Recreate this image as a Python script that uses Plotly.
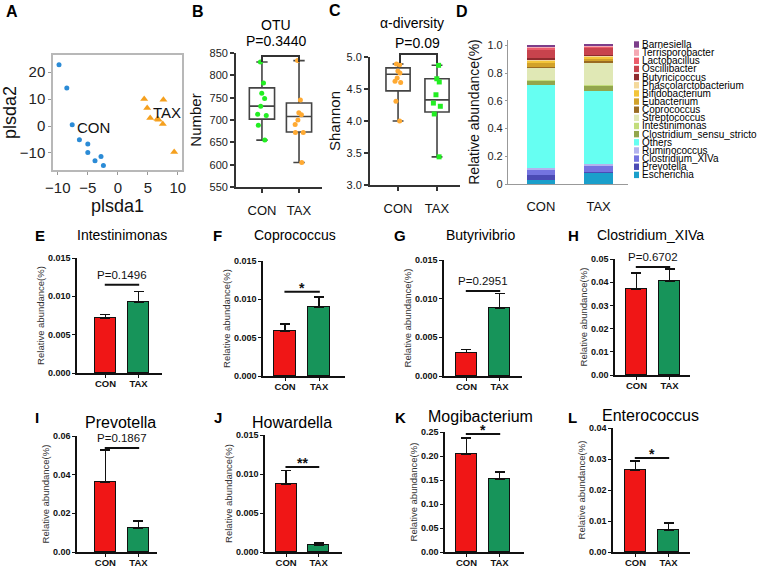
import plotly.graph_objects as go

W, H = 767, 569
FONT = "Liberation Sans, Arial, sans-serif"
RED = "#f01616"
GREEN = "#17945a"
DARK = "#333333"

# ---------------- data ----------------
groups = ["CON", "TAX"]

# A: PLS-DA scores
con_plsda1 = [-9.8, -8.5, -7.6, -6.4, -5.0, -5.0, -3.8, -2.8, -2.4]
con_plsda2 = [22.7, 14.1, 0.5, -5.1, -6.7, -9.8, -12.9, -11.3, -14.6]
tax_plsda1 = [4.4, 4.9, 5.4, 6.6, 6.8, 7.6, 7.5, 9.4]
tax_plsda2 = [10.0, 6.7, 3.0, 2.6, 2.3, 9.7, 0.7, -9.6]

# B: OTU number (points and box stats q1, median, q3, min, max)
otu_con = [830, 783, 760, 748, 731, 713, 710, 688, 655]
otu_tax = [833, 745, 716, 712, 700, 690, 672, 672, 605]
otu_con_box = [702, 731, 772, 655, 830]
otu_tax_box = [673, 708, 738, 605, 833]

# C: Shannon index
shannon_con = [4.89, 4.88, 4.78, 4.75, 4.67, 4.62, 4.60, 4.31, 4.00]
shannon_tax = [4.87, 4.66, 4.61, 4.41, 4.28, 4.23, 4.11, 3.44]
shannon_con_box = [4.47, 4.73, 4.83, 4.00, 4.89]
shannon_tax_box = [4.14, 4.33, 4.66, 3.44, 4.87]

# D: genus composition (bottom to top of the stack)
genera = ["Escherichia", "Prevotella", "Clostridium_XIVa", "Ruminococcus", "Others",
          "Clostridium_sensu_stricto", "Intestinimonas", "Streptococcus", "Coprococcus",
          "Eubacterium", "Bifidobacterium", "Phascolarctobacterium", "Butyricicoccus",
          "Oscillibacter", "Lactobacillus", "Terrisporobacter", "Barnesiella"]
con_abundance = [0.028, 0.035, 0.035, 0.016, 0.600, 0.033, 0.005, 0.090, 0.006,
                 0.025, 0.021, 0.007, 0.007, 0.066, 0.009, 0.013, 0.007]
tax_abundance = [0.080, 0.005, 0.043, 0.017, 0.530, 0.033, 0.005, 0.161, 0.014,
                 0.018, 0.014, 0.005, 0.006, 0.053, 0.006, 0.011, 0.005]
genus_colors = ["#1a9fcb", "#4b4bb5", "#7474e0", "#b3b3ee", "#66fff2", "#93a64c",
                "#c3dd7b", "#e0e8b5", "#9a6b22", "#d2a22a", "#f3c53a", "#f4d99c",
                "#8e2b2e", "#c8434d", "#ec5d6c", "#f5a8b3", "#7c3e8a"]

# E-L: mean and SEM (CON, TAX)
intestinimonas_mean = [0.00717, 0.00926]
intestinimonas_sem = [0.0005, 0.0014]
coprococcus_mean = [0.00587, 0.0090]
coprococcus_sem = [0.0009, 0.0013]
butyrivibrio_mean = [0.0030, 0.0088]
butyrivibrio_sem = [0.0004, 0.0019]
clostridium_xiva_mean = [0.0371, 0.0405]
clostridium_xiva_sem = [0.0069, 0.0052]
prevotella_mean = [0.0362, 0.0124]
prevotella_sem = [0.0166, 0.0036]
howardella_mean = [0.00872, 0.0009]
howardella_sem = [0.0017, 0.00025]
mogibacterium_mean = [0.204, 0.152]
mogibacterium_sem = [0.0335, 0.0147]
enterococcus_mean = [0.0265, 0.0071]
enterococcus_sem = [0.0029, 0.0023]


def dom_x(a, b):
    return [a / W, b / W]


def dom_y(top, bottom):
    return [1 - bottom / H, 1 - top / H]


def note(x, y, text, size, bold=False, xanchor="center", yanchor="middle", color="black"):
    return dict(x=x / W, y=1 - y / H, xref="paper", yref="paper", text=text, showarrow=False,
                xanchor=xanchor, yanchor=yanchor,
                font=dict(family=FONT, size=size, color=color, weight="bold" if bold else "normal"))


fig = go.Figure()
layout = {}
annotations = []
shapes = []

# ---------------- A ----------------
fig.add_trace(go.Scatter(x=con_plsda1, y=con_plsda2, mode="markers", showlegend=False,
                         marker=dict(color="#2b8bd6", size=5), xaxis="x", yaxis="y"))
fig.add_trace(go.Scatter(x=tax_plsda1, y=tax_plsda2, mode="markers", showlegend=False,
                         marker=dict(color="#f5a01e", size=7, symbol="triangle-up"),
                         xaxis="x", yaxis="y"))
frame = dict(showgrid=False, zeroline=False, mirror=True, showline=True, linecolor="#b8b8b8",
             linewidth=1.5, ticks="outside", ticklen=3, tickcolor="#999", automargin=False,
             tickfont=dict(family=FONT, size=15, color="#222"))
layout["xaxis"] = dict(frame, domain=dom_x(53, 182), anchor="y", range=[-10.8, 10.7],
                       tickvals=[-10, -5, 0, 5, 10],
                       title=dict(text="plsda1", font=dict(family=FONT, size=18), standoff=2))
layout["yaxis"] = dict(frame, domain=dom_y(55, 170), anchor="x", range=[-16.3, 26.3],
                       tickvals=[-10, 0, 10, 20],
                       title=dict(text="plsda2", font=dict(family=FONT, size=18), standoff=2))
annotations.append(dict(x=-7.2, y=-0.5, xref="x", yref="y", text="CON", showarrow=False,
                        xanchor="left", font=dict(family=FONT, size=15)))
annotations.append(dict(x=5.6, y=5.0, xref="x", yref="y", text="TAX", showarrow=False,
                        xanchor="left", font=dict(family=FONT, size=15)))


# ---------------- B / C box plots ----------------
def add_box(pts, stats, xpos, color, symbol, ax, width):
    q1, med, q3, lo, hi = stats
    fig.add_trace(go.Box(x=[xpos], y=[pts], q1=[q1], median=[med], q3=[q3],
                         lowerfence=[lo], upperfence=[hi], width=width, whiskerwidth=0.45,
                         boxpoints="all", jitter=0.45, pointpos=0,
                         fillcolor="rgba(255,255,255,0)", line=dict(color="#444", width=1.6),
                         marker=dict(color=color, size=5, symbol=symbol),
                         showlegend=False, xaxis="x" + ax, yaxis="y" + ax))


add_box(otu_con, otu_con_box, 0, "#22ee22", "circle", "2", 0.68)
add_box(otu_tax, otu_tax_box, 1, "#ffaa33", "circle", "2", 0.68)
add_box(shannon_con, shannon_con_box, 0, "#ffaa33", "circle", "3", 0.62)
add_box(shannon_tax, shannon_tax_box, 1, "#22ee22", "square", "3", 0.62)

box_y = dict(showgrid=False, zeroline=False, showline=True, linecolor=DARK, linewidth=1.8,
             ticks="outside", ticklen=4, tickcolor=DARK, tickwidth=1.5, automargin=False,
             tickfont=dict(family=FONT, size=11, color="#222"))
box_x = dict(showgrid=False, zeroline=False, showline=True, linecolor=DARK, linewidth=1.8,
             ticks="outside", ticklen=4, tickcolor=DARK, tickwidth=1.5, tickvals=[0, 1],
             ticktext=groups, ticklabelstandoff=6, automargin=False,
             tickfont=dict(family=FONT, size=13, color="#111"))
layout["xaxis2"] = dict(box_x, domain=dom_x(236, 322), anchor="y2", range=[-0.7, 1.62])
layout["yaxis2"] = dict(box_y, domain=dom_y(53, 187), anchor="x2", range=[550, 850], dtick=50,
                        title=dict(text="Number", font=dict(family=FONT, size=15), standoff=4))
layout["xaxis3"] = dict(box_x, domain=dom_x(370, 460), anchor="y3", range=[-0.72, 1.59])
layout["yaxis3"] = dict(box_y, domain=dom_y(57, 185), anchor="x3", range=[3.0, 5.0], dtick=0.5,
                        tickformat=".1f",
                        title=dict(text="Shannon", font=dict(family=FONT, size=15), standoff=2))

annotations += [note(198, 12, "B", 16, True), note(335, 11, "C", 16, True),
                note(12, 12, "A", 16, True), note(462, 12, "D", 16, True),
                note(276, 25, "OTU", 14), note(276, 41, "P=0.3440", 14),
                note(412, 23, "α-diversity", 14), note(417, 43, "P=0.09", 14)]
# comparison brackets
for (x0, x1, ytop, yl, yr) in [(262, 299, 56, 62, 62), (400, 437, 54, 63, 63)]:
    shapes.append(dict(type="path", xref="paper", yref="paper",
                       path="M {:.5f},{:.5f} L {:.5f},{:.5f} L {:.5f},{:.5f} L {:.5f},{:.5f}".format(
                           x0 / W, 1 - yl / H, x0 / W, 1 - ytop / H, x1 / W, 1 - ytop / H,
                           x1 / W, 1 - yr / H),
                       line=dict(color=DARK, width=2)))

# ---------------- D stacked bars ----------------
for name, c_val, t_val, col in zip(genera, con_abundance, tax_abundance, genus_colors):
    fig.add_trace(go.Bar(x=[0, 1], y=[c_val, t_val], name=name, marker=dict(color=col, line=dict(width=0)),
                         width=0.49, showlegend=False, xaxis="x4", yaxis="y4"))
layout["barmode"] = "stack"
layout["xaxis4"] = dict(domain=dom_x(508, 628), anchor="y4", range=[-0.57, 1.51], showgrid=False,
                        zeroline=False, showline=True, linecolor="#999", linewidth=1.2,
                        tickvals=[0, 1], ticktext=groups, ticks="", ticklabelstandoff=10,
                        automargin=False, tickfont=dict(family=FONT, size=13, color="#111"))
layout["yaxis4"] = dict(domain=dom_y(40, 184), anchor="x4", range=[0, 1.04], showgrid=False,
                        zeroline=False, showline=True, linecolor="#999", linewidth=1.2,
                        tickvals=[0, 0.2, 0.4, 0.6, 0.8, 1.0], automargin=False,
                        ticktext=["0", "0.2", "0.4", "0.6", "0.8", "1.0"], ticks="outside",
                        ticklen=2, tickcolor="#999", tickfont=dict(family=FONT, size=11, color="#222"),
                        title=dict(text="Relative abundance(%)", font=dict(family=FONT, size=14),
                                   standoff=4))
# legend drawn by hand so the entries can sit as tightly as in the original
for i, (name, col) in enumerate(zip(genera[::-1], genus_colors[::-1])):
    yc = 44.5 + i * 8.15
    shapes.append(dict(type="rect", xref="paper", yref="paper", x0=634 / W, x1=639 / W,
                       y0=1 - (yc + 3.2) / H, y1=1 - (yc - 3.2) / H, fillcolor=col,
                       line=dict(width=0)))
    annotations.append(note(640, yc, name, 10, xanchor="left"))

# ---------------- E-L bar panels ----------------
panels = [
    # letter, title, mean, sem, x0, x1, ytop, ybot, ymax, dtick, fmt, xrange, sig, sig_y,
    # title_y, title size, letter x, title x
    ("E", "Intestinimonas", intestinimonas_mean, intestinimonas_sem, 77, 162, 258, 373, 0.015, 0.005,
     ".3f", [-0.86, 1.71], "P=0.1496", 0.0115, 235, 14, 40, 122),
    ("F", "Coprococcus", coprococcus_mean, coprococcus_sem, 263, 345, 261, 376, 0.015, 0.005,
     ".3f", [-0.65, 1.76], "*", 0.0110, 235, 14, 217, 295),
    ("G", "Butyrivibrio", butyrivibrio_mean, butyrivibrio_sem, 444, 522, 260, 376, 0.015, 0.005,
     ".3f", [-0.68, 1.68], "P=0.2951", 0.0110, 235, 14, 400, 480),
    ("H", "Clostridium_XIVa", clostridium_xiva_mean, clostridium_xiva_sem, 615, 690, 259, 375, 0.05, 0.01,
     ".2f", [-0.65, 1.62], "P=0.6702", 0.0466, 235, 14, 573, 650),
    ("I", "Prevotella", prevotella_mean, prevotella_sem, 77, 157, 436, 552, 0.06, 0.02,
     ".2f", [-0.86, 1.56], "P=0.1867", 0.0538, 422, 16, 37, 120),
    ("J", "Howardella", howardella_mean, howardella_sem, 265, 342, 435, 552, 0.015, 0.005,
     ".3f", [-0.65, 1.72], "**", 0.0109, 422, 16, 218, 292),
    ("K", "Mogibacterium", mogibacterium_mean, mogibacterium_sem, 445, 524, 432, 552, 0.25, 0.05,
     ".2f", [-0.65, 1.74], "*", 0.246, 416, 16, 400, 480),
    ("L", "Enterococcus", enterococcus_mean, enterococcus_sem, 613, 690, 428, 552, 0.04, 0.01,
     ".2f", [-0.68, 1.65], "*", 0.0303, 415, 16, 572, 650),
]

for k, (letter, title, mean, sem, x0, x1, ytop, ybot, ymax, dtick, fmt, xr, sig, sig_y,
        title_y, tsize, letter_x, title_x) in enumerate(panels):
    ax = str(k + 5)
    fig.add_trace(go.Bar(x=[0, 1], y=mean, width=0.65, showlegend=False,
                         marker=dict(color=[RED, GREEN], line=dict(color="#111", width=1.5)),
                         error_y=dict(type="data", symmetric=False, array=sem, arrayminus=[0, 0],
                                      color="#111", thickness=1.3, width=5),
                         xaxis="x" + ax, yaxis="y" + ax))
    layout["xaxis" + ax] = dict(domain=dom_x(x0, x1), anchor="y" + ax, range=xr, showgrid=False,
                                zeroline=False, showline=True, linecolor="#111", linewidth=1.5,
                                tickvals=[0, 1], ticktext=groups, ticks="outside", ticklen=3,
                                tickcolor="#111", tickwidth=1.2, automargin=False,
                                ticklabelstandoff=-2,
                                tickfont=dict(family=FONT, size=9.5, color="#111", weight="bold"))
    layout["yaxis" + ax] = dict(domain=dom_y(ytop, ybot), anchor="x" + ax, range=[0, ymax],
                                dtick=dtick, tickformat=fmt, showgrid=False, zeroline=False,
                                showline=True, linecolor="#111", linewidth=1.5, ticks="outside",
                                ticklen=3, tickcolor="#111", tickwidth=1.2, automargin=False,
                                tickfont=dict(family=FONT, size=9, color="#111", weight="bold"),
                                title=dict(text="Relative abundance(%)", standoff=2,
                                           font=dict(family=FONT, size=9.5, color="#333")))
    shapes.append(dict(type="line", xref="x" + ax, yref="y" + ax, x0=-0.02, x1=1.02,
                       y0=sig_y, y1=sig_y, line=dict(color="#111", width=2)))
    star = sig.startswith("*")
    annotations.append(dict(x=0.5, y=sig_y, xref="x" + ax, yref="y" + ax, text=sig,
                            showarrow=False, yanchor="bottom", yshift=-6 if star else 2,
                            font=dict(family=FONT, size=14 if star else 11.5, color="#111",
                                      weight="bold" if star else "normal")))
    annotations.append(note(title_x, title_y, title, tsize))
    annotations.append(note(letter_x, title_y if k < 4 else 417, letter, 15, True))

layout.update(dict(width=W, height=H, margin=dict(l=0, r=0, t=0, b=0), paper_bgcolor="white",
                   plot_bgcolor="white", font=dict(family=FONT, color="#111"),
                   annotations=annotations, shapes=shapes, showlegend=False, bargap=0))
fig.update_layout(layout)
# drop the page's default body margin so the figure sits at the window's corner
fig.write_html("out.html", config={"displayModeBar": False},
               post_script="document.body.style.margin='0';")
